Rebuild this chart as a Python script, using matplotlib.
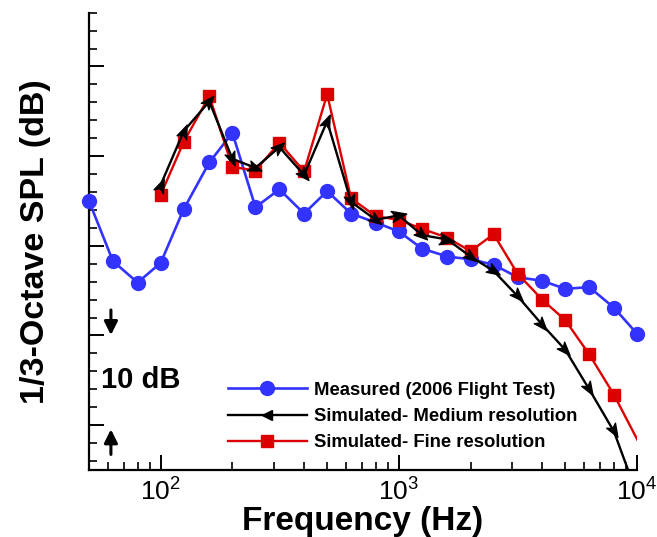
import numpy as np
import matplotlib
matplotlib.use('Agg')
import matplotlib.pyplot as plt
from matplotlib.path import Path
from matplotlib.lines import Line2D

plt.rcParams['font.family'] = ['Liberation Sans', 'DejaVu Sans']
plt.rcParams['mathtext.fontset'] = 'custom'
plt.rcParams['mathtext.rm'] = 'Liberation Sans'

# 1/3 octave band centre frequencies (Hz)
freq_meas = [50, 63, 80, 100, 125, 160, 200, 250, 315, 400, 500, 630, 800,
             1000, 1250, 1600, 2000, 2500, 3150, 4000, 5000, 6300, 8000, 10000]
spl_meas = [65.0, 58.3, 55.9, 58.1, 64.1, 69.3, 72.6, 64.3, 66.3, 63.6, 66.1, 63.6,
            62.6, 61.6, 59.7, 58.8, 58.5, 57.9, 56.5, 56.1, 55.2, 55.4, 53.1, 50.2]

freq_med = [100, 125, 160, 200, 250, 315, 400, 500, 630, 800, 1000, 1250,
            1600, 2000, 2500, 3150, 4000, 5000, 6300, 8000, 10000]
spl_med = [66.8, 72.8, 76.1, 69.7, 68.7, 71.0, 67.9, 73.9, 64.9, 62.9, 63.4, 61.2,
           60.7, 58.8, 57.2, 54.4, 51.2, 48.4, 44.0, 39.3, 32.3]

freq_fine = [100, 125, 160, 200, 250, 315, 400, 500, 630, 800, 1000, 1250,
             1600, 2000, 2500, 3150, 4000, 5000, 6300, 8000, 12500]
spl_fine = [65.7, 71.6, 76.7, 68.8, 68.4, 71.5, 68.3, 76.9, 65.3, 63.3, 62.9, 61.9,
            60.9, 59.4, 61.3, 56.9, 54.0, 51.7, 47.9, 43.4, 33.5]

blue = '#3333ff'
red = '#dd0000'

fig = plt.figure(figsize=(6.57, 5.37), dpi=100)
ax = fig.add_axes([89/657, 1-470/537, 548/657, 457.3/537])

ax.set_xscale('log')
ax.set_xlim(50, 10000)
ax.set_ylim(35, 86)

ax.plot(freq_meas, spl_meas, color=blue, lw=1.9, marker='o', ms=10,
        mec=blue, mfc=blue, clip_on=False, zorder=3)
ax.plot(freq_fine, spl_fine, color=red, lw=1.7, marker='s', ms=8,
        mec=red, mfc=red, zorder=4)
ax.plot(freq_med, spl_med, color='black', lw=1.7, zorder=5)

# arrowhead markers along the medium resolution curve
arrow = np.array([[1.0, 0.0], [-1.0, 0.75], [-0.5, 0.0], [-1.0, -0.75], [1.0, 0.0]])
codes = [Path.MOVETO, Path.LINETO, Path.LINETO, Path.LINETO, Path.CLOSEPOLY]
pts = ax.transData.transform(np.column_stack([freq_med, spl_med]))
for i in range(len(freq_med)):
    if i == 0:
        d = pts[1] - pts[0]
    else:
        d = pts[i] - pts[i-1]
    ang = np.arctan2(d[1], d[0])
    rot = np.array([[np.cos(ang), -np.sin(ang)], [np.sin(ang), np.cos(ang)]])
    verts = arrow @ rot.T
    ax.plot(freq_med[i], spl_med[i], marker=Path(verts, codes), ms=12,
            color='black', ls='none', zorder=6)

for side in ['top', 'right']:
    ax.spines[side].set_visible(False)
for side in ['left', 'bottom']:
    ax.spines[side].set_linewidth(1.6)

ax.set_yticks(np.arange(40, 81, 10))
ax.set_yticks(np.arange(36, 87, 2), minor=True)
ax.set_yticklabels([])
ax.tick_params(axis='both', which='major', direction='in', length=11, width=1.4)
ax.tick_params(axis='both', which='minor', direction='in', length=6, width=1.2)
ax.tick_params(axis='x', which='major', labelsize=19, pad=6)
ax.tick_params(axis='x', which='minor', labelbottom=False)
ax.set_xticks([100, 1000, 10000])
ax.set_xticklabels([r'$\mathregular{10^{2}}$', r'$\mathregular{10^{3}}$',
                    r'$\mathregular{10^{4}}$'])

ax.set_xlabel('Frequency (Hz)', fontsize=24, fontweight='bold', labelpad=0)
ax.set_ylabel('1/3-Octave SPL (dB)', fontsize=24.5, fontweight='bold', labelpad=24)

# 10 dB scale indicator
ax.annotate('', xy=(0.040, 0.289), xytext=(0.040, 0.356), xycoords='axes fraction',
            arrowprops=dict(arrowstyle='-|>', color='black', lw=2.2, mutation_scale=20))
ax.annotate('', xy=(0.040, 0.095), xytext=(0.040, 0.028), xycoords='axes fraction',
            arrowprops=dict(arrowstyle='-|>', color='black', lw=2.2, mutation_scale=20))
ax.text(0.021, 0.197, '10 dB', transform=ax.transAxes, fontsize=21,
        fontweight='bold', va='center', ha='left')

handles = [
    Line2D([], [], color=blue, lw=1.9, marker='o', ms=10, mfc=blue, mec=blue),
    Line2D([], [], color='black', lw=1.7, marker='<', ms=7),
    Line2D([], [], color=red, lw=1.7, marker='s', ms=8, mfc=red, mec=red),
]
labels = ['Measured (2006 Flight Test)', 'Simulated- Medium resolution',
          'Simulated- Fine resolution']
ax.legend(handles, labels, loc='upper left', bbox_to_anchor=(0.253, 0.193),
          frameon=False, handlelength=4.3, handletextpad=0.4, labelspacing=0.5,
          borderpad=0, borderaxespad=0,
          prop={'weight': 'bold', 'size': 13.3})

fig.savefig('out.png', dpi=100)
